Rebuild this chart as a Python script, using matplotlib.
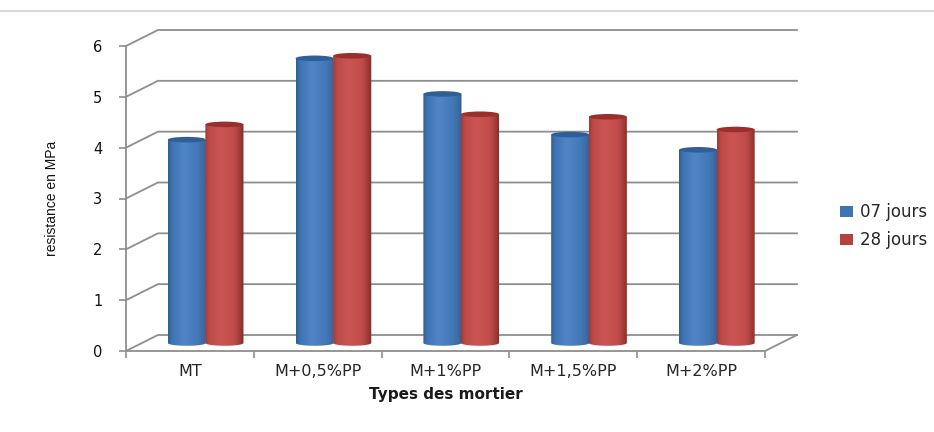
import matplotlib
matplotlib.use("Agg")
import matplotlib.pyplot as plt
import numpy as np
from matplotlib.lines import Line2D
from matplotlib.patches import Ellipse, PathPatch, Patch
from matplotlib.path import Path
from matplotlib.colors import LinearSegmentedColormap

categories = ["MT", "M+0,5%PP", "M+1%PP", "M+1,5%PP", "M+2%PP"]
jours_07 = [4.0, 5.6, 4.9, 4.1, 3.8]
jours_28 = [4.3, 5.65, 4.5, 4.45, 4.2]
y_ticks = [0, 1, 2, 3, 4, 5, 6]

GRID = "#8e8e8e"
DEPTH_X, DEPTH_Y = 0.25, 0.315
BAR_W = 0.298
CAP_H = 0.11

BLUE = LinearSegmentedColormap.from_list(
    "blue3d", [(0, "#2f5f98"), (0.1, "#3f74b2"), (0.4, "#4f86c8"),
               (0.75, "#4578b8"), (0.93, "#3a6ba6"), (1, "#2f5a8e")])
RED = LinearSegmentedColormap.from_list(
    "red3d", [(0, "#a33a38"), (0.1, "#bd4a47"), (0.4, "#cc5553"),
              (0.75, "#c04c49"), (0.92, "#9c3835"), (1, "#7f2a28")])


def cylinder(ax, x_left, value, cmap, top_color, z):
    """Shaded 3D column: gradient body clipped to the outline, plus a top cap."""
    base = DEPTH_Y / 2
    cx = x_left + BAR_W / 2
    top = base + value
    t = np.linspace(0, np.pi, 40)
    arc_x = cx - BAR_W / 2 * np.cos(t)
    arc_y = base - CAP_H / 2 * np.sin(t)
    xs = np.r_[arc_x, x_left + BAR_W, x_left, x_left]
    ys = np.r_[arc_y, top, top, base]
    outline = PathPatch(Path(np.c_[xs, ys]), fc="none", ec="none", zorder=z)
    ax.add_patch(outline)
    shade = np.linspace(0, 1, 64).reshape(1, -1)
    im = ax.imshow(shade, cmap=cmap, aspect="auto", zorder=z, clip_on=True,
                   extent=(x_left, x_left + BAR_W, base - CAP_H, top))
    im.set_clip_path(outline)
    ax.add_patch(Ellipse((cx, top), BAR_W, CAP_H, fc=top_color, ec="none",
                         zorder=z + 0.1, clip_on=False))


fig = plt.figure(figsize=(9.34, 4.32), dpi=100)
ax = fig.add_axes([126 / 934, 1 - 351 / 432, 639 / 934, 305 / 432])

fig.add_artist(Line2D([0, 1], [1 - 11 / 432] * 2, color="#d2d2d2", lw=1.2))

# back wall and side wall gridlines
n = len(categories)
for v in y_ticks:
    ax.plot([0, DEPTH_X, n + DEPTH_X], [v, v + DEPTH_Y, v + DEPTH_Y],
            color=GRID, lw=1.3, zorder=1, clip_on=False)
ax.plot([n, n + DEPTH_X], [0, DEPTH_Y], color=GRID, lw=1.3, zorder=1, clip_on=False)

for i in range(n):
    mid = i + 0.5 + DEPTH_X / 2
    cylinder(ax, mid - BAR_W, jours_07[i], BLUE, "#2f5f98", 3 + i)
    cylinder(ax, mid - 0.004, jours_28[i], RED, "#9a302e", 3.5 + i)

ax.set_xlim(0, n)
ax.set_ylim(0, 6)

for side in ("top", "right"):
    ax.spines[side].set_visible(False)
for side in ("left", "bottom"):
    ax.spines[side].set_color(GRID)
    ax.spines[side].set_linewidth(1.3)

ax.set_yticks(y_ticks)
ax.set_xticks(range(n + 1))
ax.set_xticklabels([])
ax.set_xticks(np.arange(n) + 0.5, minor=True)
ax.set_xticklabels(categories, minor=True, fontsize=11.5, color="#262626")
ax.tick_params(axis="x", which="major", length=5, width=1.2, color=GRID)
ax.tick_params(axis="x", which="minor", length=0, pad=9)
ax.tick_params(axis="y", length=5, width=1.2, color=GRID, labelsize=10.5,
               labelcolor="#111111", pad=12)

fig.text(446 / 934, 1 - 394 / 432, "Types des mortier", fontsize=11,
         fontweight="bold", ha="center", va="center", color="#1a1a1a")
fig.text(52 / 934, 1 - 198 / 432, "resistance en MPa", rotation=90, fontsize=10,
         family=["Liberation Sans Narrow", "Liberation Sans"],
         ha="center", va="center", color="#111111")

handles = [Patch(fc="#3f74b2", label="07 jours"), Patch(fc="#b5423f", label="28 jours")]
fig.legend(handles=handles, loc="center left", bbox_to_anchor=(840 / 934, 1 - 226 / 432),
           frameon=False, fontsize=12, handlelength=0.8, handleheight=0.65,
           handletextpad=0.4, labelspacing=0.6, borderpad=0, borderaxespad=0,
           labelcolor="#262626")

fig.savefig("out.png", dpi=100)
